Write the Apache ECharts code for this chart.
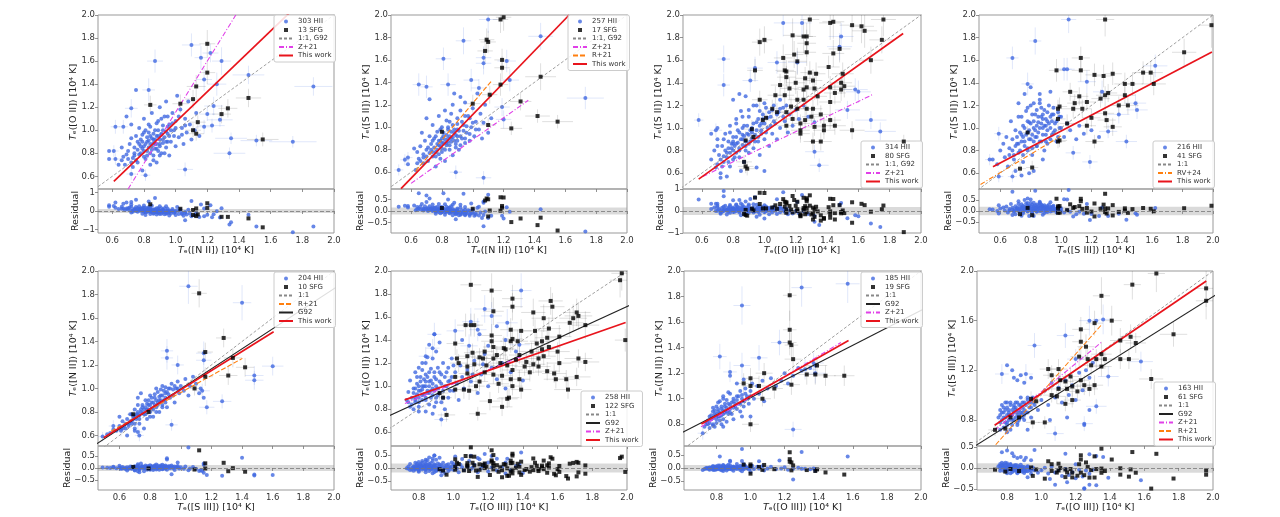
<!DOCTYPE html>
<html>
<head>
<meta charset="utf-8">
<script src="https://cdn.jsdelivr.net/npm/echarts@6/dist/echarts.min.js"></script>
<style>
html, body { margin: 0; padding: 0; background: #fff; }
#chart { width: 1280px; height: 517px; }
</style>
</head>
<body>
<div id="chart"></div>
<script>
// tick values
var xTicksA = [0.6, 0.8, 1.0, 1.2, 1.4, 1.6, 1.8, 2.0];
var xTicksB = [0.8, 1.0, 1.2, 1.4, 1.6, 1.8, 2.0];
var yTicksA = [0.6, 0.8, 1.0, 1.2, 1.4, 1.6, 1.8, 2.0];
var yTicks7 = [0.8, 1.0, 1.2, 1.4, 1.6, 1.8, 2.0];
var yTicks8 = [0.8, 1.2, 1.6, 2.0];
var resTicksOne = [-1, 0, 1];
var resTicksHalf = [-0.5, 0, 0.5];

// axis titles
var xNames = ['[N II]', '[N II]', '[O II]', '[S III]', '[S III]', '[O III]', '[O III]', '[O III]'];
var yNames = ['[O II]', '[S II]', '[S II]', '[S II]', '[N II]', '[O II]', '[N II]', '[S III]'];
var hiiLabels = ['303 HII', '257 HII', '314 HII', '216 HII', '204 HII', '258 HII', '185 HII', '163 HII'];
var sfgLabels = ['13 SFG', '17 SFG', '80 SFG', '41 SFG', '10 SFG', '122 SFG', '19 SFG', '61 SFG'];

// residual band half widths
var bands = [0.11, 0.15, 0.18, 0.19, 0.12, 0.17, 0.12, 0.11];

// ---- panel 1 : Te[O II] vs Te[N II]
var hii1 = [[1.10,1.74,.06,.1],[0.87,1.60,.05,.1],[1.22,1.67,.05,.08],[1.16,1.63,.04,.1],[1.29,1.60,.06,.12],[1.46,1.48,.1,.08],[1.87,1.38,.12,.08],[0.83,1.35,.04,.1],[1.18,1.44,.05,.1],[1.26,1.40,.06,.1],[0.72,1.19,.04,.08],[0.62,1.03,.03,.06],[0.67,1.03,.03,.06],[0.61,0.82,.03,.05],[0.62,0.75,.03,.05],[0.72,0.62,.03,.05],[0.81,0.61,.03,.05],[1.06,0.66,.05,.06],[1.34,0.80,.1,.05],[1.35,0.93,.1,.05],[1.51,0.91,.1,.05],[1.74,0.90,.15,.05],[1.23,1.04,.08,.06],[1.28,1.09,.08,.06],[1.24,1.21,.06,.08],[1.18,1.03,.05,.06],[1.20,1.14,.05,.06],
  [0.58,0.82],[0.58,0.75],[0.66,0.85],[0.67,0.77],[0.68,0.70],[0.70,0.75],[0.70,0.82],[0.71,0.88],[0.72,0.93],[0.73,0.68],[0.74,0.78],[0.74,0.85],[0.75,0.95],[0.76,0.72],[0.77,0.88],[0.77,1.02],[0.78,0.80],[0.78,0.92],[0.79,0.65],[0.80,0.86],[0.80,0.98],[0.80,1.10],[0.81,0.75],[0.82,0.90],[0.82,0.82],[0.83,1.05],[0.84,0.70],[0.84,0.95],[0.85,0.86],[0.85,1.15],[0.86,0.78],[0.86,0.92],[0.87,1.00],[0.88,0.84],[0.88,0.72],[0.89,0.95],[0.89,1.08],[0.90,0.88],[0.90,1.20],[0.91,0.80],[0.92,1.00],[0.92,0.92],[0.93,1.12],[0.94,0.85],[0.94,1.25],[0.95,0.97],[0.96,1.05],[0.96,0.78],[0.97,0.90],[0.98,1.15],[0.99,1.00],[1.00,0.86],[1.00,1.08],[1.01,1.30],[1.02,0.94],[1.03,1.18],[1.04,1.02],[1.05,0.88],[1.06,1.10],[1.07,0.98],[1.08,1.25],[1.09,1.05],[1.10,0.92],[1.12,1.00],[1.13,1.15],[1.15,0.95],[0.72,1.05],[0.69,1.12],[0.75,1.35],[0.83,0.98],[0.87,0.88],[0.79,0.84],[0.91,0.96],[0.95,0.90]];
var core1 = [[0.76,0.83],[0.78,0.86],[0.79,0.90],[0.80,0.82],[0.81,0.88],[0.82,0.94],[0.83,0.85],[0.83,0.91],[0.84,0.88],[0.84,0.80],[0.85,0.93],[0.85,0.83],[0.86,0.89],[0.86,0.97],[0.87,0.84],[0.87,0.92],[0.88,0.88],[0.88,0.95],[0.89,0.82],[0.89,1.00],[0.90,0.92],[0.90,0.86],[0.91,0.97],[0.92,0.89],[0.92,1.04],[0.93,0.94],[0.94,0.99],[0.94,0.90],[0.95,1.03],[0.96,0.95],[0.97,1.00],[0.98,1.06],[0.99,0.95],[1.00,1.02],[0.74,0.80],[0.73,0.76],[0.72,0.72],[0.75,0.74],[0.77,0.79],[0.80,0.77],[0.82,0.78],[0.76,0.90],[0.79,0.96],[0.81,1.00],[0.84,1.03],[0.88,1.06],[0.91,1.10],[0.95,1.12],[1.02,1.12],[1.04,0.96],[1.06,1.04],[0.69,0.79],[0.66,0.74],[0.64,0.70],[0.86,0.74],[0.90,0.78],[0.93,0.80]];
var sfg1 = [[1.20,1.75,.05,.12],[1.20,1.50,.05,.1],[1.13,1.38,.06,.1],[1.11,1.27,.05,.08],[0.84,1.22,.04,.08],[1.03,1.23,.05,.08],[1.46,1.28,.08,.08],[1.33,1.19,.06,.08],[1.29,1.14,.06,.08],[1.14,1.07,.05,.06],[1.11,1.00,.05,.06],[1.13,0.97,.05,.06],[1.55,0.92,.1,.06]];
var fit1 = [[0.61,0.557],[1.72,2.02]];
var zaragoza1 = [[0.70,0.49],[1.38,2.0]];

// ---- panel 2 : Te[S II] vs Te[N II]
var hii2 = [[1.10,1.96,.06,.12],[1.44,1.81,.08,.12],[0.94,1.77,.05,.12],[0.81,1.61,.05,.1],[1.07,1.62,.05,.1],[1.07,1.57,.05,.1],[1.22,1.59,.06,.1],[0.65,1.38,.04,.1],[0.70,1.36,.04,.1],[0.84,1.38,.05,.1],[0.99,1.42,.05,.1],[1.04,1.35,.05,.08],[1.24,1.42,.06,.1],[1.73,1.26,.12,.1],[1.19,1.18,.05,.08],[1.20,1.07,.05,.08],[0.89,0.60,.04,.06],[1.07,0.55,.05,.06],[0.52,0.62,.03,.05],[0.56,0.71,.03,.05],[0.58,0.73,.03,.05],
  [0.62,0.81],[0.64,0.78],[0.65,0.72],[0.66,0.83],[0.67,0.95],[0.68,0.76],[0.69,0.88],[0.70,0.80],[0.71,0.70],[0.72,0.92],[0.73,0.85],[0.74,0.78],[0.74,1.02],[0.75,0.90],[0.76,0.74],[0.77,0.96],[0.78,0.84],[0.78,1.10],[0.79,0.88],[0.80,0.78],[0.80,1.00],[0.81,0.92],[0.82,0.70],[0.82,1.15],[0.83,0.86],[0.84,0.98],[0.85,0.80],[0.85,1.05],[0.86,0.90],[0.87,1.20],[0.87,0.75],[0.88,0.95],[0.89,0.85],[0.90,1.08],[0.90,0.98],[0.91,0.80],[0.92,1.15],[0.93,0.90],[0.94,1.02],[0.95,0.86],[0.95,1.22],[0.96,0.95],[0.97,1.10],[0.98,0.88],[0.99,1.00],[1.00,1.17],[1.01,0.92],[1.02,1.05],[1.04,0.98],[1.05,1.12],[1.06,0.90],[1.07,1.04],[1.08,1.20],[1.10,0.95],[1.12,1.08],[0.68,0.68],[0.76,0.65],[0.58,0.67],[0.63,0.62],[0.79,0.72],[0.88,1.30],[0.92,1.27],[1.03,1.30],[0.72,1.25],[0.70,1.08],[0.84,0.90],[0.90,0.92],[0.80,0.86]];
var core2 = [[0.70,0.74],[0.72,0.77],[0.73,0.80],[0.74,0.74],[0.75,0.82],[0.76,0.78],[0.77,0.85],[0.77,0.80],[0.78,0.88],[0.78,0.76],[0.79,0.83],[0.80,0.90],[0.80,0.81],[0.81,0.86],[0.81,0.95],[0.82,0.80],[0.82,0.89],[0.83,0.84],[0.83,0.93],[0.84,0.87],[0.84,1.00],[0.85,0.84],[0.85,0.92],[0.86,0.96],[0.86,0.87],[0.87,0.91],[0.87,1.02],[0.88,0.88],[0.88,0.98],[0.89,0.93],[0.90,1.03],[0.90,0.88],[0.91,0.97],[0.92,0.92],[0.93,1.05],[0.94,0.97],[0.95,1.10],[0.96,1.01],[0.98,1.08],[1.00,1.04],[0.66,0.70],[0.68,0.73],[0.64,0.68],[0.71,0.82],[0.74,0.88],[0.76,0.92],[0.79,0.98],[0.83,1.06],[0.86,1.12],[0.89,0.82],[0.92,0.84],[0.95,0.90],[0.98,0.94],[1.02,0.98]];
var sfg2 = [[1.18,1.96,.05,.12],[1.20,1.98,.05,.12],[1.09,1.78,.05,.1],[1.10,1.76,.05,.1],[1.08,1.68,.05,.1],[1.19,1.60,.05,.1],[1.19,1.53,.05,.1],[1.18,1.38,.05,.1],[1.11,1.29,.05,.08],[0.80,0.96,.04,.06],[1.00,1.21,.05,.08],[1.10,1.02,.05,.06],[1.31,1.23,.07,.08],[1.44,1.45,.1,.12],[1.42,1.10,.08,.06],[1.25,0.99,.07,.06],[1.55,1.05,.1,.06]];
var fit2 = [[0.535,0.453],[1.625,2.0]];
var zaragoza2 = [[0.60,0.50],[1.36,1.24]];
var rodriguez2 = [[0.63,0.61],[1.12,1.41]];

// ---- panel 3 : Te[S II] vs Te[O II]
var hii3 = [[1.12,1.93,.06,.12],[1.24,1.93,.06,.12],[0.74,1.61,.04,.12],[0.74,1.38,.04,.1],[1.08,1.58,.06,.1],[1.21,1.58,.06,.1],[1.49,1.81,.08,.12],[1.48,1.72,.08,.12],[1.60,1.32,.08,.1],[0.94,1.53,.05,.1],[0.91,1.42,.05,.1],[1.58,1.34,.08,.1],[1.68,1.07,.1,.08],[1.74,0.97,.1,.08],[1.35,0.67,.06,.06],[0.58,1.07,.03,.06],[0.69,0.98,.04,.06],[1.32,0.79,.06,.06],[1.53,1.16,.08,.08],
  [0.66,0.72],[0.68,0.80],[0.69,0.65],[0.70,0.90],[0.71,0.76],[0.72,0.60],[0.73,0.84],[0.74,0.70],[0.75,0.95],[0.76,0.78],[0.77,0.88],[0.78,1.02],[0.78,0.66],[0.79,0.82],[0.80,0.92],[0.81,0.74],[0.82,1.08],[0.82,0.86],[0.83,0.98],[0.84,0.80],[0.85,1.15],[0.86,0.90],[0.87,0.70],[0.87,1.02],[0.88,0.84],[0.89,0.95],[0.90,1.10],[0.90,0.78],[0.91,0.88],[0.92,1.00],[0.93,1.20],[0.93,0.82],[0.94,0.94],[0.95,1.05],[0.96,0.88],[0.97,1.15],[0.97,0.76],[0.98,0.98],[0.99,1.08],[1.00,0.90],[1.01,1.18],[1.02,1.00],[1.03,0.84],[1.04,1.10],[1.05,0.95],[1.06,1.20],[1.07,1.04],[1.08,0.90],[1.09,1.14],[1.10,1.00],[1.12,1.18],[1.13,1.06],[1.15,0.96],[1.16,1.12],[1.18,1.02],[1.20,1.16],[1.22,1.08],[1.25,1.20],[0.72,0.56],[0.76,0.57],[0.85,0.62],[0.95,0.65],[1.00,0.62],[0.80,1.25],[0.88,1.28],[0.84,1.30],[0.70,1.00],[0.66,0.95],[1.10,1.25],[1.28,1.10],[1.32,1.05],[0.80,0.86],[0.86,0.94],[0.92,0.96],[0.98,1.04]];
var core3 = [[0.72,0.72],[0.74,0.75],[0.75,0.80],[0.76,0.74],[0.77,0.82],[0.78,0.78],[0.79,0.86],[0.80,0.80],[0.80,0.88],[0.81,0.84],[0.82,0.78],[0.82,0.92],[0.83,0.87],[0.84,0.82],[0.84,0.96],[0.85,0.90],[0.86,0.85],[0.86,1.00],[0.87,0.93],[0.88,0.88],[0.88,0.80],[0.89,1.02],[0.90,0.94],[0.90,0.86],[0.91,0.98],[0.92,0.91],[0.93,1.04],[0.94,0.88],[0.95,0.98],[0.96,1.08],[0.96,0.92],[0.97,1.02],[0.98,0.95],[0.99,1.12],[1.00,1.04],[1.01,0.96],[1.02,1.09],[1.03,1.14],[1.04,1.02],[1.05,1.16],[1.06,1.06],[1.08,1.12],[1.10,1.17],[1.12,1.10],[1.14,1.20],[0.70,0.68],[0.73,0.66],[0.77,0.70],[0.80,0.72],[0.84,0.74],[0.70,0.84],[0.74,0.90],[0.78,0.96],[0.82,1.04],[0.86,1.10],[0.90,1.16],[0.95,1.20],[1.00,1.22]];
var sfg3 = [[1.29,1.96,.06,.15],[1.44,1.94,.07,.15],[1.42,1.93,.07,.15],[1.56,1.91,.08,.15],[1.62,1.90,.08,.15],[1.64,1.86,.08,.15],[1.76,1.96,.08,.15],[1.18,1.82,.06,.15],[1.25,1.81,.06,.15],[1.27,1.81,.06,.12],[1.27,1.75,.06,.12],[0.97,1.76,.05,.12],[1.00,1.78,.05,.12],[1.27,1.67,.06,.12],[1.19,1.65,.06,.12],[1.48,1.70,.07,.12],[1.44,1.66,.07,.12],[1.68,1.60,.08,.12],[1.75,1.78,.08,.12],[1.12,1.62,.06,.12],[1.21,1.59,.06,.12],[1.13,1.51,.06,.12],[1.14,1.50,.06,.1],[0.94,1.51,.05,.1],[1.29,1.49,.06,.1],[1.33,1.48,.06,.1],[1.41,1.54,.07,.1],[1.50,1.48,.07,.1],[1.14,1.45,.06,.1],[1.26,1.44,.06,.1],[1.31,1.42,.06,.1],[1.20,1.40,.06,.1],[1.49,1.40,.07,.1],[1.51,1.37,.07,.1],[1.25,1.34,.06,.1],[1.27,1.36,.06,.1],[1.32,1.35,.06,.1],[1.42,1.36,.07,.1],[0.97,1.25,.05,.08],[1.07,1.29,.05,.08],[1.21,1.25,.06,.08],[1.25,1.25,.06,.08],[1.34,1.28,.06,.08],[1.42,1.23,.07,.08],[1.17,1.19,.06,.08],[1.21,1.17,.06,.08],[1.27,1.17,.06,.08],[1.31,1.17,.06,.08],[1.08,1.14,.05,.08],[1.05,1.17,.05,.08],[1.14,1.14,.06,.08],[1.30,1.10,.06,.08],[1.36,1.12,.06,.08],[0.99,1.07,.05,.08],[1.01,1.09,.05,.08],[1.18,1.08,.06,.08],[1.23,1.04,.06,.08],[1.26,1.07,.06,.08],[1.14,1.02,.06,.08],[1.32,1.01,.06,.08],[1.38,1.02,.07,.08],[1.42,1.07,.07,.08],[1.45,1.02,.07,.08],[0.92,0.99,.05,.08],[1.23,0.95,.06,.08],[1.23,0.98,.06,.08],[1.38,0.98,.07,.08],[1.31,0.88,.06,.08],[1.36,0.88,.07,.08],[1.56,0.98,.08,.08],[0.88,0.89,.05,.08],[0.93,0.92,.05,.08],[0.89,0.64,.05,.06],[0.88,0.66,.05,.06],[0.87,0.70,.05,.06],[1.89,0.88,.08,.06],[1.13,1.29,.06,.08],[1.10,1.38,.06,.1],[1.16,1.35,.06,.1],[1.49,1.34,.07,.1],[1.45,1.31,.07,.1]];
var fit3 = [[0.58,0.547],[1.886,1.836]];
var zaragoza3 = [[0.606,0.57],[1.693,1.297]];

// ---- panel 4 : Te[S II] vs Te[S III]
var hii4 = [[1.05,1.96,.05,.12],[0.83,1.77,.04,.12],[0.68,1.62,.04,.1],[0.78,1.39,.04,.1],[1.02,1.52,.05,.1],[1.04,1.52,.05,.1],[1.17,1.41,.06,.1],[1.27,1.32,.06,.1],[1.62,1.55,.08,.1],[1.50,1.16,.07,.08],[1.49,1.22,.07,.08],[1.38,1.12,.07,.08],[1.08,0.78,.05,.06],[1.19,0.70,.05,.06],[0.59,0.95,.03,.06],[0.53,0.72,.03,.05],[0.59,0.57,.03,.05],[0.68,0.57,.03,.05],[1.31,0.97,.06,.06],[1.43,0.88,.07,.06],
  [0.55,0.72],[0.58,0.68],[0.60,0.80],[0.62,0.86],[0.63,0.74],[0.64,0.92],[0.65,0.66],[0.66,0.82],[0.67,1.06],[0.68,0.90],[0.69,0.76],[0.70,0.98],[0.71,0.86],[0.72,1.10],[0.73,0.80],[0.74,0.94],[0.75,1.02],[0.75,0.70],[0.76,0.88],[0.77,1.15],[0.78,0.96],[0.78,0.82],[0.79,1.05],[0.80,0.90],[0.80,1.20],[0.81,0.76],[0.82,1.00],[0.83,0.92],[0.83,1.12],[0.84,0.84],[0.85,1.05],[0.85,0.96],[0.86,1.22],[0.87,0.88],[0.87,1.10],[0.88,1.00],[0.89,0.80],[0.89,1.16],[0.90,0.94],[0.91,1.06],[0.91,0.86],[0.92,1.20],[0.93,1.00],[0.93,0.90],[0.94,1.12],[0.95,0.96],[0.95,1.18],[0.96,1.04],[0.97,0.88],[0.98,1.14],[0.99,1.00],[1.00,1.10],[1.02,0.92],[1.04,1.04],[0.70,0.62],[0.74,0.58],[0.79,0.60],[0.82,0.62],[0.88,0.72],[0.72,1.22],[0.76,1.30],[0.80,1.36],[0.86,1.30],[0.93,1.32],[1.06,0.98],[1.10,0.90],[1.12,1.02],[1.15,0.95],[1.20,0.98],[1.25,0.92],[0.84,1.02],[0.88,1.08],[0.90,1.02]];
var core4 = [[0.68,0.80],[0.70,0.84],[0.71,0.92],[0.72,0.86],[0.73,0.96],[0.74,0.88],[0.75,0.92],[0.76,1.00],[0.76,0.84],[0.77,0.94],[0.78,1.06],[0.79,0.90],[0.79,0.98],[0.80,1.04],[0.81,0.94],[0.81,1.12],[0.82,0.88],[0.82,1.06],[0.83,0.98],[0.84,1.16],[0.84,0.92],[0.85,1.10],[0.86,1.00],[0.86,0.88],[0.87,1.04],[0.87,1.18],[0.88,0.94],[0.88,1.12],[0.89,1.02],[0.90,1.08],[0.90,0.88],[0.91,1.14],[0.91,0.98],[0.92,1.04],[0.93,1.10],[0.94,0.94],[0.94,1.06],[0.95,1.12],[0.96,0.98],[0.97,1.06],[0.98,0.92],[0.99,1.10],[1.00,1.00],[0.72,0.78],[0.75,0.76],[0.78,0.80],[0.81,0.82],[0.84,0.84],[0.69,0.72],[0.66,0.76],[0.74,1.10],[0.78,1.18],[0.82,1.22],[0.86,1.25]];
var sfg4 = [[1.29,1.96,.06,.15],[1.99,1.91,.08,.2],[1.81,1.67,.08,.12],[1.61,1.39,.08,.1],[1.59,1.49,.08,.1],[1.54,1.49,.07,.1],[1.47,1.39,.07,.1],[1.42,1.39,.07,.1],[1.28,1.46,.06,.1],[1.22,1.47,.06,.1],[1.34,1.48,.06,.1],[1.13,1.51,.06,.1],[1.13,1.62,.06,.1],[0.97,1.51,.05,.1],[1.06,1.32,.05,.08],[1.12,1.28,.06,.08],[1.17,1.23,.06,.08],[1.09,1.22,.05,.08],[1.14,1.17,.06,.08],[1.26,1.26,.06,.08],[1.31,1.31,.06,.08],[1.42,1.29,.07,.08],[1.38,1.20,.07,.08],[1.44,1.20,.07,.08],[0.99,1.19,.05,.08],[0.98,1.17,.05,.08],[0.98,1.08,.05,.08],[0.99,0.89,.05,.06],[0.98,0.88,.05,.06],[1.22,0.88,.06,.06],[1.29,1.13,.06,.08],[1.30,1.07,.06,.08],[1.34,1.01,.06,.08],[1.20,1.09,.06,.08],[1.17,1.02,.06,.08],[1.04,1.04,.05,.08],[0.78,0.96,.04,.06],[0.81,0.65,.04,.06],[0.73,0.64,.04,.06],[1.08,1.17,.05,.08],[1.29,1.29,.06,.08]];
var fit4 = [[0.552,0.658],[1.993,1.673]];
var rv4 = [[0.47,0.50],[1.0,0.93]];

// ---- panel 5 : Te[N II] vs Te[S III]
var hii5 = [[1.05,1.87,.06,.15],[1.40,1.73,.06,.15],[1.60,1.19,.07,.08],[1.48,1.11,.06,.08],[1.48,1.07,.06,.08],[1.27,0.89,.06,.06],[1.17,0.84,.05,.06],[1.14,0.98,.05,.06],[1.15,1.24,.05,.1],[1.15,1.30,.05,.1],[0.91,1.32,.04,.1],[0.91,1.26,.04,.1],[0.98,1.20,.04,.08],[0.94,0.69,.04,.05],[0.72,0.63,.03,.05],[0.73,0.60,.03,.05],[0.56,0.68,.03,.05],[0.61,0.64,.03,.05],[0.49,0.59,.03,.04],
  [0.52,0.61],[0.54,0.62],[0.56,0.65],[0.58,0.64],[0.60,0.68],[0.61,0.66],[0.62,0.72],[0.64,0.70],[0.65,0.74],[0.66,0.68],[0.67,0.78],[0.68,0.72],[0.69,0.76],[0.70,0.82],[0.70,0.70],[0.71,0.78],[0.72,0.86],[0.73,0.74],[0.74,0.80],[0.75,0.84],[0.76,0.78],[0.77,0.90],[0.78,0.82],[0.78,0.74],[0.79,0.86],[0.80,0.80],[0.80,0.94],[0.81,0.88],[0.82,0.76],[0.83,0.92],[0.84,0.84],[0.84,1.00],[0.85,0.88],[0.86,0.80],[0.87,0.94],[0.88,0.86],[0.88,1.02],[0.89,0.90],[0.90,0.96],[0.91,0.84],[0.92,1.00],[0.93,0.92],[0.94,1.04],[0.95,0.94],[0.96,0.88],[0.97,1.00],[0.98,1.06],[0.99,0.96],[1.00,1.02],[1.02,0.98],[1.03,1.08],[1.05,0.94],[1.06,1.02],[1.08,1.10],[1.10,1.04],[1.12,0.96],[1.13,1.00],[1.15,0.92],[0.72,0.92],[0.74,0.96],[0.65,0.60],[0.70,0.64],[0.76,0.66],[0.60,0.76],[0.82,0.82],[0.86,0.90],[0.90,0.88]];
var core5 = [[0.62,0.66],[0.63,0.68],[0.64,0.66],[0.66,0.70],[0.67,0.72],[0.68,0.70],[0.69,0.74],[0.70,0.76],[0.71,0.74],[0.72,0.78],[0.72,0.80],[0.73,0.77],[0.74,0.82],[0.75,0.79],[0.75,0.86],[0.76,0.82],[0.77,0.84],[0.77,0.78],[0.78,0.87],[0.79,0.82],[0.79,0.90],[0.80,0.86],[0.81,0.83],[0.81,0.92],[0.82,0.88],[0.83,0.86],[0.83,0.95],[0.84,0.90],[0.85,0.86],[0.85,0.97],[0.86,0.93],[0.87,0.90],[0.87,0.99],[0.88,0.94],[0.89,0.98],[0.90,0.92],[0.90,1.01],[0.91,0.97],[0.92,0.95],[0.93,1.00],[0.95,0.99],[0.96,1.02],[0.98,1.00],[0.68,0.78],[0.70,0.66],[0.73,0.70],[0.80,0.76],[0.84,0.80],[0.88,0.84]];
var sfg5 = [[1.12,1.81,.05,.12],[1.28,1.43,.05,.08],[1.16,1.31,.05,.08],[1.34,1.26,.06,.08],[1.42,1.18,.06,.08],[1.31,1.11,.06,.08],[1.16,1.10,.05,.08],[1.09,1.00,.05,.06],[0.79,0.80,.04,.05],[0.69,0.78,.04,.05]];
var fit5 = [[0.497,0.58],[1.606,1.483]];
var garnett5 = [[0.3,0.40],[2.1,1.935]];
var rodriguez5 = [[0.545,0.636],[1.402,1.256]];

// ---- panel 6 : Te[O II] vs Te[O III]
var hii6 = [[1.39,1.83,.06,.15],[1.18,1.67,.06,.12],[1.31,1.55,.06,.12],[1.22,1.61,.06,.12],[1.10,1.56,.05,.12],[1.14,1.49,.05,.1],[0.89,1.45,.04,.1],[1.01,1.48,.05,.1],[1.09,1.35,.05,.1],[1.38,1.36,.06,.1],[1.17,1.19,.05,.08],[1.11,1.10,.05,.08],[0.84,1.26,.04,.08],[0.88,1.33,.04,.08],[0.93,0.71,.04,.06],[0.80,0.82,.04,.06],[0.78,0.88,.04,.06],
  [0.73,0.88],[0.74,0.95],[0.75,1.05],[0.76,0.84],[0.77,0.98],[0.78,0.90],[0.78,1.12],[0.79,1.02],[0.80,0.86],[0.80,0.96],[0.81,1.08],[0.82,0.92],[0.82,1.20],[0.83,1.00],[0.84,0.88],[0.84,1.10],[0.85,0.96],[0.85,1.25],[0.86,1.04],[0.87,0.90],[0.87,1.15],[0.88,0.98],[0.89,1.08],[0.89,0.82],[0.90,1.00],[0.90,1.30],[0.91,0.92],[0.92,1.12],[0.92,1.04],[0.93,0.86],[0.94,1.20],[0.94,0.96],[0.95,1.08],[0.96,1.00],[0.97,1.16],[0.97,0.90],[0.98,1.05],[0.99,1.24],[1.00,0.96],[1.01,1.12],[1.02,1.02],[1.03,0.88],[1.04,1.18],[1.05,1.08],[1.06,0.98],[1.08,1.14],[1.10,1.04],[1.12,1.22],[1.14,0.94],[1.16,1.10],[1.18,1.28],[1.20,1.00],[1.22,1.16],[1.25,1.06],[1.28,1.20],[1.30,0.98],[1.33,1.12],[1.36,1.30],[1.40,1.05],[0.84,0.78],[0.88,0.76],[0.80,0.78],[0.95,0.80],[0.89,1.45],[0.92,1.38],[0.86,1.36],[1.05,1.40],[1.15,1.45],[1.20,1.35],[1.30,1.40],[1.25,1.52],[0.82,1.00],[0.86,0.94],[0.90,0.90],[0.84,1.04]];
var core6 = [[0.76,0.90],[0.77,0.94],[0.78,0.98],[0.78,0.86],[0.79,0.93],[0.80,1.00],[0.80,0.90],[0.81,0.96],[0.81,1.04],[0.82,0.88],[0.82,0.97],[0.83,1.06],[0.83,0.93],[0.84,1.00],[0.84,0.90],[0.85,1.08],[0.85,0.94],[0.86,1.00],[0.86,1.12],[0.87,0.96],[0.87,1.05],[0.88,0.92],[0.88,1.02],[0.89,1.12],[0.89,0.96],[0.90,1.06],[0.91,0.98],[0.91,1.16],[0.92,0.94],[0.93,1.02],[0.93,1.10],[0.94,0.90],[0.95,1.00],[0.96,1.12],[0.97,1.04],[0.98,0.96],[0.99,1.08],[1.00,1.18],[0.75,0.82],[0.77,0.80],[0.74,0.86],[0.79,1.08],[0.82,1.14],[0.84,1.20],[0.88,1.24],[0.80,1.16],[0.90,0.86],[0.86,0.84]];
var sfg6 = [[1.97,1.98,.06,.15],[1.96,1.92,.06,.15],[1.10,1.88,.06,.15],[1.22,1.83,.06,.15],[1.34,1.76,.06,.12],[1.34,1.69,.06,.12],[1.23,1.65,.06,.12],[1.56,1.74,.07,.12],[1.57,1.69,.07,.12],[1.71,1.64,.08,.12],[1.72,1.61,.08,.12],[1.69,1.59,.08,.12],[1.46,1.64,.07,.12],[1.52,1.59,.07,.12],[1.67,1.55,.08,.12],[1.76,1.53,.08,.12],[1.07,1.53,.05,.1],[1.10,1.53,.05,.1],[1.12,1.53,.05,.1],[1.22,1.44,.06,.1],[1.33,1.49,.06,.1],[1.39,1.48,.06,.1],[1.47,1.48,.07,.1],[1.55,1.50,.07,.1],[1.54,1.42,.07,.1],[1.61,1.43,.07,.1],[1.51,1.39,.07,.1],[1.34,1.41,.06,.1],[1.33,1.39,.06,.1],[1.37,1.39,.06,.1],[1.48,1.37,.07,.1],[1.01,1.37,.05,.1],[1.22,1.39,.06,.1],[1.23,1.34,.06,.1],[1.29,1.33,.06,.1],[1.30,1.32,.06,.1],[1.11,1.29,.05,.08],[1.08,1.26,.05,.08],[1.15,1.25,.05,.08],[1.17,1.24,.05,.08],[1.25,1.27,.06,.08],[1.23,1.24,.06,.08],[1.02,1.24,.05,.08],[1.38,1.27,.06,.08],[1.51,1.32,.07,.08],[1.55,1.34,.07,.08],[1.49,1.24,.07,.08],[1.42,1.21,.06,.08],[1.41,1.17,.06,.08],[1.46,1.19,.07,.08],[1.49,1.17,.07,.08],[1.61,1.20,.07,.08],[1.72,1.24,.08,.08],[1.76,1.21,.08,.08],[1.31,1.18,.06,.08],[1.34,1.14,.06,.08],[1.19,1.18,.05,.08],[1.08,1.17,.05,.08],[1.08,1.11,.05,.08],[1.18,1.12,.05,.08],[1.23,1.10,.06,.08],[1.28,1.09,.06,.08],[1.33,1.06,.06,.08],[1.38,1.06,.06,.08],[1.58,1.11,.07,.08],[1.59,1.06,.07,.08],[1.65,1.06,.08,.08],[1.71,1.08,.08,.08],[1.66,0.97,.08,.08],[1.01,1.08,.05,.08],[1.01,0.97,.05,.08],[1.06,0.97,.05,.08],[1.09,0.96,.05,.08],[1.15,1.04,.05,.08],[1.13,1.00,.05,.08],[1.39,0.97,.06,.08],[1.32,0.90,.06,.08],[1.31,0.89,.06,.08],[1.28,0.82,.06,.08],[1.21,0.87,.06,.08],[1.14,0.76,.05,.06],[0.96,0.75,.05,.06],[0.94,0.90,.05,.06],[0.92,0.94,.05,.06],[1.99,1.40,.06,.1],[1.03,1.20,.05,.08],[1.45,1.30,.07,.08],[1.60,1.30,.07,.08],[1.27,1.20,.06,.08],[1.36,1.23,.06,.08],[1.52,1.26,.07,.08],[1.18,1.30,.05,.08],[1.12,1.19,.05,.08],[1.44,1.12,.07,.08],[1.54,1.13,.07,.08],[1.26,1.02,.06,.08],[1.34,1.00,.06,.08]];
var fit6 = [[0.719,0.881],[1.992,1.553]];
var garnett6 = [[0.5,0.653],[2.1,1.76]];
var zaragoza6 = [[0.72,0.85],[1.39,1.257]];

// ---- panel 7 : Te[N II] vs Te[O III]
var hii7 = [[0.95,1.73,.05,.15],[1.30,1.87,.06,.15],[1.57,1.90,.07,.15],[0.82,1.33,.04,.1],[1.17,1.44,.05,.1],[0.95,1.26,.05,.1],[1.05,1.32,.05,.1],[1.25,0.76,.05,.06],[0.88,1.21,.04,.08],[1.37,1.28,.06,.08],[1.32,1.23,.06,.08],[1.38,1.20,.06,.08],[0.72,0.73,.03,.05],
  [0.73,0.78],[0.74,0.82],[0.75,0.80],[0.76,0.86],[0.77,0.84],[0.78,0.90],[0.78,0.80],[0.79,0.88],[0.80,0.84],[0.80,0.94],[0.81,0.90],[0.82,0.86],[0.82,0.98],[0.83,0.92],[0.84,0.88],[0.84,1.00],[0.85,0.94],[0.86,0.90],[0.86,0.82],[0.87,0.96],[0.88,0.92],[0.88,1.04],[0.89,0.88],[0.90,0.98],[0.90,0.84],[0.91,0.94],[0.92,1.02],[0.93,0.96],[0.94,0.90],[0.94,1.06],[0.95,1.00],[0.96,0.94],[0.97,1.08],[0.98,1.02],[0.99,0.96],[1.00,1.06],[1.01,1.12],[1.02,1.00],[1.04,1.10],[1.05,1.04],[1.07,1.14],[1.08,0.98],[1.10,1.08],[1.12,1.16],[1.15,1.10],[1.18,1.14],[1.20,1.20],[1.22,1.12],[1.25,1.18],[1.28,1.24],[1.30,1.22],[1.35,1.24],[1.38,1.26],[0.79,0.78],[0.83,0.80],[0.84,0.78],[0.95,0.86],[1.00,0.86],[0.92,1.12],[0.96,1.15],[0.88,1.18],[0.81,0.86],[0.85,0.90],[0.87,0.88]];
var core7 = [[0.74,0.80],[0.75,0.83],[0.76,0.81],[0.77,0.87],[0.78,0.85],[0.79,0.86],[0.79,0.91],[0.80,0.88],[0.81,0.86],[0.81,0.92],[0.82,0.89],[0.83,0.87],[0.83,0.94],[0.84,0.91],[0.85,0.89],[0.85,0.96],[0.86,0.93],[0.86,0.99],[0.87,0.91],[0.88,0.95],[0.88,0.89],[0.89,0.97],[0.90,0.93],[0.90,1.00],[0.91,0.96],[0.92,0.92],[0.92,0.99],[0.93,1.02],[0.94,0.96],[0.95,1.03],[0.96,0.98],[0.97,1.04],[0.98,1.00],[1.00,1.02],[0.76,0.77],[0.78,0.79],[0.80,0.81],[0.82,0.83],[0.84,0.84],[0.78,0.93],[0.81,0.97],[0.84,1.02],[0.87,1.05]];
var sfg7 = [[1.23,1.81,.04,.2],[1.23,1.54,.04,.15],[1.23,1.44,.04,.1],[1.24,1.42,.04,.1],[1.25,1.31,.05,.1],[1.24,1.11,.05,.08],[1.33,1.19,.05,.08],[1.39,1.26,.06,.08],[1.38,1.19,.06,.08],[1.44,1.18,.06,.08],[1.55,1.18,.06,.08],[1.08,1.20,.05,.08],[1.05,1.10,.05,.08],[1.00,1.10,.05,.08],[0.96,1.12,.05,.08],[1.00,1.16,.05,.08],[1.07,1.00,.05,.06],[1.14,1.08,.05,.08],[1.00,0.80,.05,.06]];
var fit7 = [[0.712,0.803],[1.575,1.456]];
var garnett7 = [[0.5,0.667],[2.1,1.76]];
var zaragoza7 = [[0.71,0.78],[1.53,1.44]];

// ---- panel 8 : Te[S III] vs Te[O III]
var hii8 = [[1.36,1.61,.06,.12],[1.28,1.60,.06,.12],[0.96,1.40,.04,.1],[1.14,1.48,.05,.1],[0.91,1.17,.04,.08],[0.77,1.17,.04,.08],[1.25,0.77,.05,.06],[1.08,0.69,.05,.06],[1.58,1.27,.07,.08],[1.39,1.15,.06,.08],[1.32,0.91,.06,.06],[1.20,1.29,.05,.08],
  [0.75,0.82],[0.76,0.78],[0.77,0.86],[0.78,0.74],[0.78,0.90],[0.79,0.82],[0.80,0.94],[0.80,0.78],[0.81,0.86],[0.82,0.92],[0.82,0.72],[0.83,0.84],[0.84,0.90],[0.84,0.80],[0.85,0.94],[0.86,0.86],[0.86,0.76],[0.87,0.92],[0.88,0.84],[0.88,0.98],[0.89,0.90],[0.90,0.80],[0.90,0.94],[0.91,0.86],[0.92,0.96],[0.93,0.90],[0.94,0.82],[0.95,0.98],[0.96,0.92],[0.98,0.88],[1.00,0.96],[1.02,1.04],[1.04,0.92],[1.06,1.10],[1.08,0.98],[1.10,1.06],[1.12,0.94],[1.14,1.12],[1.16,1.00],[1.18,1.08],[1.20,0.96],[1.22,1.18],[1.24,1.04],[1.26,1.20],[1.28,1.14],[1.30,1.26],[1.32,1.60],[0.86,1.12],[0.88,1.16],[0.90,1.10],[0.94,1.14],[0.84,1.14],[0.80,1.24],[0.83,1.20],[0.76,0.72],[0.80,0.70],[0.92,0.72],[1.05,0.80],[1.15,0.82],[1.25,0.76],[1.28,0.88],[0.81,0.84],[0.85,0.88],[0.87,0.82],[0.89,0.86]];
var core8 = [[0.76,0.84],[0.77,0.80],[0.78,0.86],[0.78,0.82],[0.79,0.88],[0.79,0.78],[0.80,0.84],[0.80,0.90],[0.81,0.80],[0.81,0.88],[0.82,0.84],[0.82,0.94],[0.83,0.88],[0.83,0.80],[0.84,0.86],[0.84,0.92],[0.85,0.82],[0.85,0.90],[0.86,0.94],[0.86,0.84],[0.87,0.88],[0.87,0.80],[0.88,0.92],[0.88,0.86],[0.89,0.94],[0.89,0.82],[0.90,0.88],[0.91,0.92],[0.92,0.86],[0.93,0.94],[0.94,0.90],[0.77,0.92],[0.79,0.94],[0.76,0.88],[0.80,0.76],[0.83,0.76],[0.86,0.78],[0.90,0.84],[0.92,0.98],[0.95,0.94]];
var sfg8 = [[1.67,1.98,.05,.15],[1.53,1.89,.05,.12],[1.96,1.76,.06,.15],[1.96,1.86,.06,.15],[1.77,1.49,.08,.1],[1.35,1.80,.05,.15],[1.41,1.60,.06,.12],[1.52,1.47,.06,.1],[1.46,1.44,.06,.1],[1.31,1.58,.05,.1],[1.23,1.53,.05,.1],[1.23,1.43,.05,.1],[1.26,1.39,.05,.1],[1.35,1.33,.06,.1],[1.27,1.29,.05,.08],[1.22,1.31,.05,.08],[1.29,1.24,.05,.08],[1.32,1.29,.05,.08],[1.37,1.29,.06,.08],[1.35,1.23,.06,.08],[1.46,1.29,.06,.08],[1.51,1.29,.06,.08],[1.55,1.42,.06,.08],[1.64,1.13,.07,.08],[1.04,1.21,.05,.08],[1.10,1.21,.05,.08],[1.11,1.12,.05,.08],[1.10,1.05,.05,.08],[1.06,1.16,.05,.08],[1.17,1.15,.05,.08],[1.14,1.11,.05,.08],[1.15,1.05,.05,.08],[1.18,1.07,.05,.08],[1.23,1.12,.05,.08],[1.25,1.08,.05,.08],[1.31,1.08,.05,.08],[1.09,0.99,.05,.06],[1.14,0.93,.05,.06],[0.87,0.82,.04,.06],[0.79,0.73,.04,.05],[0.73,0.72,.04,.05],[0.82,0.82,.04,.05],[0.95,0.78,.04,.05],[1.02,0.78,.04,.05],[0.94,0.97,.04,.06],[1.18,0.96,.05,.06],[1.06,1.00,.05,.06],[1.21,1.03,.05,.06],[1.28,1.05,.05,.06],[0.97,0.95,.04,.06]];
var fit8 = [[0.728,0.757],[1.961,1.919]];
var garnett8 = [[0.5,0.492],[2.1,1.88]];
var zaragoza8 = [[0.728,0.717],[1.35,1.426]];
var rodriguez8 = [[0.734,0.60],[1.35,1.566]];

var oneToOne = [[0, 0], [2.5, 2.5]];

// layout of each panel: grid box in px, axis ranges, legend spot
var layout = [
  {left: 98, top: 15, width: 236, h: 174, rh: 44, x: [0.51, 2.0], y: [0.49, 2.0], r: [-1.18, 1.18], yt: yTicksA, xt: xTicksA, rt: resTicksOne, lg: [274, 15]},
  {left: 391, top: 15, width: 236, h: 174, rh: 44, x: [0.47, 2.0], y: [0.45, 2.0], r: [-0.95, 0.95], yt: yTicksA, xt: xTicksA, rt: resTicksHalf, lg: [568, 15]},
  {left: 683, top: 15, width: 238, h: 174, rh: 44, x: [0.48, 2.0], y: [0.46, 2.0], r: [-1, 1], yt: yTicksA, xt: xTicksA, rt: resTicksOne, lg: [861, 141]},
  {left: 979, top: 15, width: 234, h: 174, rh: 44, x: [0.46, 2.0], y: [0.46, 2.0], r: [-1, 1], yt: yTicksA, xt: xTicksA, rt: resTicksHalf, lg: [1153, 141]},
  {left: 98, top: 271, width: 236, h: 175, rh: 44, x: [0.46, 2.0], y: [0.51, 2.0], r: [-0.9, 0.9], yt: yTicksA, xt: xTicksA, rt: resTicksHalf, lg: [274, 272]},
  {left: 391, top: 271, width: 236, h: 175, rh: 44, x: [0.64, 2.0], y: [0.48, 2.0], r: [-0.85, 0.85], yt: yTicksA, xt: xTicksB, rt: resTicksHalf, lg: [581, 391]},
  {left: 684, top: 271, width: 237, h: 175, rh: 44, x: [0.61, 2.0], y: [0.63, 2.0], r: [-0.86, 0.86], yt: yTicks7, xt: xTicksB, rt: resTicksHalf, lg: [861, 272]},
  {left: 977, top: 271, width: 236, h: 175, rh: 44, x: [0.625, 2.0], y: [0.59, 2.0], r: [-0.52, 0.52], yt: yTicks8, xt: xTicksB, rt: resTicksHalf, lg: [1154, 382]}
];

// which reference lines each panel shows, in legend order
var lineSets = [
  [['1:1, G92', oneToOne], ['Z+21', zaragoza1], ['This work', fit1]],
  [['1:1, G92', oneToOne], ['Z+21', zaragoza2], ['R+21', rodriguez2], ['This work', fit2]],
  [['1:1, G92', oneToOne], ['Z+21', zaragoza3], ['This work', fit3]],
  [['1:1', oneToOne], ['RV+24', rv4], ['This work', fit4]],
  [['1:1', oneToOne], ['R+21', rodriguez5], ['G92', garnett5], ['This work', fit5]],
  [['1:1', oneToOne], ['G92', garnett6], ['Z+21', zaragoza6], ['This work', fit6]],
  [['1:1', oneToOne], ['G92', garnett7], ['Z+21', zaragoza7], ['This work', fit7]],
  [['1:1', oneToOne], ['G92', garnett8], ['Z+21', zaragoza8], ['R+21', rodriguez8], ['This work', fit8]]
];
var hiiSets = [hii1.concat(core1), hii2.concat(core2), hii3.concat(core3), hii4.concat(core4),
               hii5.concat(core5), hii6.concat(core6), hii7.concat(core7), hii8.concat(core8)];
var sfgSets = [sfg1, sfg2, sfg3, sfg4, sfg5, sfg6, sfg7, sfg8];
var fitSets = [fit1, fit2, fit3, fit4, fit5, fit6, fit7, fit8];

var BLUE = '#4169e1';
var FONT = 'DejaVu Sans';
var lineStyles = {
  '1:1, G92': {color: '#888', width: 0.8, type: [3, 2]},
  '1:1': {color: '#888', width: 0.8, type: [3, 2]},
  'Z+21': {color: '#e040e8', width: 1.1, type: [5, 2, 1, 2]},
  'R+21': {color: '#ff7f0e', width: 1.1, type: [5, 2]},
  'RV+24': {color: '#ff7f0e', width: 1.1, type: [5, 2, 1, 2]},
  'G92': {color: '#222', width: 1.1, type: 'solid'},
  'This work': {color: '#e8141c', width: 1.7, type: 'solid'}
};

// value of a straight fit (given by two points) at x
function lineAt(seg, x) {
  var a = seg[0], b = seg[1];
  return a[1] + (b[1] - a[1]) * (x - a[0]) / (b[0] - a[0]);
}

function fmt(v, dec) {
  return v.toFixed(dec).replace('-', '\u2212');
}

function axisTitle(ion) {
  return '{i|T}\u2091(' + ion + ') [10\u2074 K]';
}

var titleStyle = {
  fontFamily: FONT, fontSize: 9.5, color: '#222',
  rich: {i: {fontStyle: 'italic', fontFamily: FONT, fontSize: 9.5, color: '#222'}}
};

function errBars(pts, color, idx) {
  return {
    type: 'custom', xAxisIndex: idx, yAxisIndex: idx, clip: true, silent: true, z: 1,
    data: pts.filter(function (p) { return p.length > 2; }),
    renderItem: function (params, api) {
      var x = api.value(0), y = api.value(1), ex = api.value(2), ey = api.value(3);
      var a = api.coord([x - ex, y]), b = api.coord([x + ex, y]);
      var c = api.coord([x, y - ey]), d = api.coord([x, y + ey]);
      var st = {stroke: color, lineWidth: 1};
      return {type: 'group', children: [
        {type: 'line', shape: {x1: a[0], y1: a[1], x2: b[0], y2: b[1]}, style: st},
        {type: 'line', shape: {x1: c[0], y1: c[1], x2: d[0], y2: d[1]}, style: st}
      ]};
    }
  };
}

var grids = [], xAxes = [], yAxes = [], series = [], legends = [];

layout.forEach(function (L, k) {
  var mi = 2 * k, ri = 2 * k + 1;
  var fit = fitSets[k];
  grids.push({left: L.left, top: L.top, width: L.width, height: L.h, show: true, borderColor: '#999', borderWidth: 1, containLabel: false});
  grids.push({left: L.left, top: L.top + L.h, width: L.width, height: L.rh, show: true, borderColor: '#999', borderWidth: 1, containLabel: false});

  var tick = {show: true, length: 3, lineStyle: {color: '#777', width: 0.8}};
  var lab = {fontFamily: FONT, fontSize: 8.5, color: '#333', margin: 3};
  xAxes.push({gridIndex: mi, type: 'value', min: L.x[0], max: L.x[1],
    axisLine: {show: false}, splitLine: {show: false},
    axisTick: Object.assign({customValues: L.xt}, tick),
    axisLabel: {show: false, customValues: L.xt}});
  xAxes.push({gridIndex: ri, type: 'value', min: L.x[0], max: L.x[1],
    axisLine: {show: false}, splitLine: {show: false},
    axisTick: Object.assign({customValues: L.xt}, tick),
    axisLabel: Object.assign({customValues: L.xt, formatter: function (v) { return fmt(v, 1); }}, lab),
    name: axisTitle(xNames[k]), nameLocation: 'middle', nameGap: 13, nameMoveOverlap: false,
    nameTextStyle: titleStyle});

  yAxes.push({gridIndex: mi, type: 'value', min: L.y[0], max: L.y[1],
    axisLine: {show: false}, splitLine: {show: false},
    axisTick: Object.assign({customValues: L.yt}, tick),
    axisLabel: Object.assign({customValues: L.yt, formatter: function (v) { return fmt(v, 1); }}, lab),
    name: axisTitle(yNames[k]), nameLocation: 'middle', nameGap: 19, nameRotate: 90, nameMoveOverlap: false,
    nameTextStyle: titleStyle});
  var one = (L.rt === resTicksOne);
  yAxes.push({gridIndex: ri, type: 'value', min: L.r[0], max: L.r[1],
    axisLine: {show: false}, splitLine: {show: false},
    axisTick: Object.assign({customValues: L.rt}, tick),
    axisLabel: Object.assign({customValues: L.rt, formatter: function (v) { return fmt(v, one ? 0 : 1); }}, lab),
    name: 'Residual', nameLocation: 'middle', nameGap: one ? 17 : 25, nameRotate: 90, nameMoveOverlap: false,
    nameTextStyle: {fontFamily: FONT, fontSize: 9.5, color: '#222'}});

  // error bars, then points
  series.push(errBars(hiiSets[k], 'rgba(65,105,225,0.16)', mi));
  series.push(errBars(sfgSets[k], 'rgba(0,0,0,0.13)', mi));
  series.push({type: 'scatter', name: hiiLabels[k], xAxisIndex: mi, yAxisIndex: mi, z: 2,
    symbol: 'circle', symbolSize: 4, itemStyle: {color: BLUE},
    data: hiiSets[k].map(function (p) { return [p[0], p[1]]; })});
  series.push({type: 'scatter', name: sfgLabels[k], xAxisIndex: mi, yAxisIndex: mi, z: 4,
    symbol: 'rect', symbolSize: 4, itemStyle: {color: '#000'},
    data: sfgSets[k].map(function (p) { return [p[0], p[1]]; })});

  // calibration lines
  lineSets[k].forEach(function (ln) {
    var st = lineStyles[ln[0]];
    series.push({type: 'line', name: ln[0], xAxisIndex: mi, yAxisIndex: mi, z: 3,
      data: ln[1], symbol: 'none', showSymbol: false, silent: true, clip: true,
      itemStyle: {color: st.color},
      lineStyle: {color: st.color, width: st.width, type: st.type}});
  });

  // residuals against this work's fit
  series.push({type: 'scatter', xAxisIndex: ri, yAxisIndex: ri, z: 2,
    symbol: 'circle', symbolSize: 4, itemStyle: {color: BLUE}, silent: true,
    data: hiiSets[k].map(function (p) { return [p[0], p[1] - lineAt(fit, p[0])]; }),
    markArea: {silent: true, itemStyle: {color: 'rgba(150,150,150,0.35)'},
      data: [[{yAxis: -bands[k]}, {yAxis: bands[k]}]]},
    markLine: {silent: true, symbol: 'none', label: {show: false},
      lineStyle: {color: '#777', type: [4, 2], width: 0.8}, data: [{yAxis: 0}]}});
  series.push({type: 'scatter', xAxisIndex: ri, yAxisIndex: ri, z: 4,
    symbol: 'rect', symbolSize: 4, itemStyle: {color: '#000'}, silent: true,
    data: sfgSets[k].map(function (p) { return [p[0], p[1] - lineAt(fit, p[0])]; })});

  var items = [
    {name: hiiLabels[k], icon: 'circle'},
    {name: sfgLabels[k], icon: 'path://M0,0L10,0L10,10L0,10Z'}
  ].concat(lineSets[k].map(function (ln) { return {name: ln[0], itemStyle: {opacity: 0}}; }));
  legends.push({
    left: L.lg[0], top: L.lg[1], orient: 'vertical', selectedMode: false,
    data: items, itemGap: 1.5, itemWidth: 14, itemHeight: 4, padding: [3, 4, 3, 4],
    backgroundColor: 'rgba(255,255,255,0.85)', borderColor: '#ccc', borderWidth: 1, borderRadius: 2,
    textStyle: {fontFamily: FONT, fontSize: 7, color: '#333'}
  });
});

var chart = echarts.init(document.getElementById('chart'), null, {renderer: 'canvas'});
chart.setOption({
  animation: false,
  backgroundColor: '#fff',
  grid: grids,
  xAxis: xAxes,
  yAxis: yAxes,
  legend: legends,
  series: series
});
</script>
</body>
</html>
